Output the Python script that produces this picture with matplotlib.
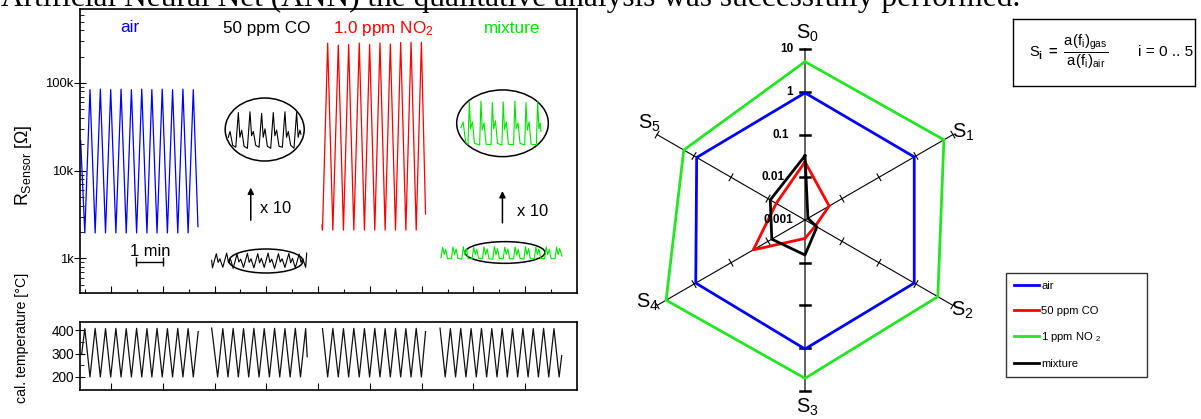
import numpy as np
import matplotlib
matplotlib.use("Agg")
import matplotlib.pyplot as plt
from matplotlib import font_manager
from matplotlib.patches import Ellipse
from matplotlib.ticker import FixedLocator, NullFormatter

W, H = 1201, 419

# ---------------- data ----------------
# sensor resistance traces, t in minutes, R in Ohm (log axis)
air_t = [-0.17, -0.01, 0.19, 0.39, 0.59, 0.79, 0.99, 1.19, 1.39, 1.59, 1.79, 1.99,
         2.19, 2.39, 2.58, 2.78, 2.98, 3.18, 3.38, 3.58, 3.78, 3.98, 4.18, 4.36]
air_r = [22000, 1950, 84000, 1950, 85000, 1950, 84000, 1950, 85000, 1950, 84000, 1950,
         85000, 1950, 84000, 1950, 85000, 1950, 84000, 1950, 85000, 1950, 84000, 2300]

no2_t = [9.15, 9.17, 9.37, 9.57, 9.78, 9.98, 10.18, 10.38, 10.59, 10.79, 10.99,
         11.19, 11.39, 11.59, 11.79, 11.99, 12.19, 12.39, 12.59, 12.79, 12.99, 13.15]
no2_r = [2400, 2100, 285000, 2100, 270000, 2100, 275000, 2100, 285000, 2100, 275000,
         2100, 285000, 2100, 278000, 2100, 290000, 2100, 292000, 2100, 292000, 3200]

co_small_t = [4.89,
              4.92, 5.07, 5.14, 5.21,
              5.32, 5.47, 5.54, 5.61,
              5.72, 5.87, 5.94, 6.01,
              6.12, 6.27, 6.34, 6.41,
              6.52, 6.67, 6.74, 6.81,
              6.92, 7.07, 7.14, 7.21,
              7.32, 7.47, 7.54, 7.61,
              7.72, 7.87, 7.94, 8.01,
              8.12, 8.27, 8.34, 8.41,
              8.52, 8.56]
co_small_r = [950,
              780, 1130, 900, 990,
              790, 1150, 890, 1000,
              770, 1120, 910, 980,
              790, 1140, 900, 990,
              780, 1130, 890, 1000,
              790, 1150, 900, 980,
              770, 1130, 910, 990,
              790, 1140, 890, 1000,
              780, 1120, 900, 990,
              790, 1150]

# "x 10" magnified view of the CO trace
co_zoom_t = [5.53, 5.60, 5.70,
             5.82, 5.92, 5.98, 6.05, 6.14,
             6.27, 6.37, 6.43, 6.50, 6.59,
             6.72, 6.82, 6.88, 6.95, 7.04,
             7.17, 7.27, 7.33, 7.40, 7.49,
             7.62, 7.72, 7.78, 7.85, 7.94,
             8.07, 8.17, 8.23, 8.30, 8.34]
co_zoom_r = [24000, 28000, 19500,
             18500, 46000, 24000, 29000, 19000,
             18000, 47000, 25000, 28000, 19500,
             18500, 45000, 24000, 30000, 19000,
             18000, 46000, 25000, 29000, 19000,
             18500, 47000, 24000, 28000, 19500,
             18000, 46000, 24000, 29000, 26000]

mix_small_t = [13.75, 13.81, 13.87, 13.93, 14.00,
               14.15, 14.21, 14.27, 14.33, 14.40,
               14.55, 14.61, 14.67, 14.73, 14.80,
               14.95, 15.01, 15.07, 15.13, 15.20,
               15.35, 15.41, 15.47, 15.53, 15.60,
               15.75, 15.81, 15.87, 15.93, 16.00,
               16.15, 16.21, 16.27, 16.33, 16.40,
               16.55, 16.61, 16.67, 16.73, 16.80,
               16.95, 17.01, 17.07, 17.13, 17.20,
               17.35, 17.41, 17.47, 17.53, 17.60,
               17.75, 17.81, 17.87, 17.93, 18.00,
               18.15, 18.21, 18.27, 18.33, 18.42]
mix_small_r = [1020, 1340, 1110, 1270, 990,
               990, 1350, 1100, 1280, 1000,
               980, 1360, 1090, 1290, 990,
               990, 1340, 1110, 1270, 1000,
               990, 1350, 1100, 1280, 990,
               980, 1360, 1100, 1290, 1000,
               990, 1340, 1110, 1280, 990,
               990, 1350, 1090, 1270, 1000,
               980, 1360, 1100, 1290, 990,
               990, 1340, 1110, 1280, 1000,
               990, 1350, 1100, 1270, 990,
               990, 1350, 1100, 1290, 1060]

# "x 10" magnified view of the mixture trace
mix_zoom_t = [14.52, 14.60, 14.70,
              14.79, 14.84, 14.89, 14.96, 15.04,
              15.24, 15.29, 15.34, 15.41, 15.49,
              15.68, 15.73, 15.78, 15.85, 15.93,
              16.10, 16.15, 16.20, 16.27, 16.35,
              16.55, 16.60, 16.65, 16.72, 16.80,
              16.98, 17.03, 17.08, 17.15, 17.23,
              17.43, 17.48, 17.53, 17.58, 17.61]
mix_zoom_r = [31000, 36000, 21000,
              20000, 61000, 30000, 36000, 20500,
              19600, 62000, 29000, 35000, 20000,
              19800, 60000, 30000, 37000, 20500,
              19600, 61000, 29500, 36000, 20000,
              19800, 62000, 30000, 35000, 20500,
              19600, 60000, 29000, 36000, 20000,
              19800, 61000, 30000, 35000, 28000]

# calibrated heater temperature (deg C)
temp_air_t = [-0.13, -0.01, 0.19, 0.39, 0.59, 0.79, 0.99, 1.19, 1.39, 1.59, 1.79, 1.99,
              2.19, 2.39, 2.58, 2.78, 2.98, 3.18, 3.38, 3.58, 3.78, 3.98, 4.18, 4.37]
temp_air = [300, 408, 200, 409, 200, 408, 200, 409, 200, 408, 200, 409,
            200, 408, 200, 409, 200, 408, 200, 409, 200, 408, 200, 395]
temp_co_t = [4.89, 5.12, 5.32, 5.52, 5.72, 5.92, 6.12, 6.32, 6.52, 6.72,
             6.92, 7.12, 7.32, 7.52, 7.72, 7.92, 8.12, 8.32, 8.52, 8.58]
temp_co = [410, 200, 408, 200, 409, 200, 408, 200, 409, 200,
           408, 200, 409, 200, 408, 200, 409, 200, 408, 287]
temp_no2_t = [9.17, 9.37, 9.57, 9.78, 9.98, 10.18, 10.38, 10.59, 10.79, 10.99, 11.19,
              11.39, 11.59, 11.79, 11.99, 12.19, 12.39, 12.59, 12.79, 12.99, 13.15]
temp_no2 = [408, 200, 409, 200, 408, 200, 409, 200, 408, 200, 409,
            200, 408, 200, 409, 200, 408, 200, 409, 200, 395]
temp_mix_t = [13.71, 13.91, 14.11, 14.31, 14.51, 14.71, 14.91, 15.11, 15.31, 15.51,
              15.71, 15.91, 16.11, 16.31, 16.51, 16.71, 16.91, 17.11, 17.31, 17.51,
              17.71, 17.91, 18.11, 18.31, 18.41]
temp_mix = [410, 200, 408, 200, 409, 200, 408, 200, 409, 200,
            408, 200, 409, 200, 408, 200, 409, 200, 408, 200,
            409, 200, 408, 200, 292]

# radar: sensitivities S_i for the six spokes
spokes = ["S_0", "S_1", "S_2", "S_3", "S_4", "S_5"]
sens_air = [0.95, 0.9, 0.9, 1.05, 0.9, 0.85]
sens_co = [0.023, 0.0045, 0.0019, 0.0027, 0.025, 0.006]
sens_no2 = [5.1, 5.7, 3.9, 5.1, 5.7, 1.9]
sens_mix = [0.032, 0.0012, 0.0021, 0.0066, 0.0079, 0.0087]
radar_ticks = [0.001, 0.01, 0.1, 1, 10]
radar_tick_labels = ["0.001", "0.01", "0.1", "1", "10"]

BLUE, RED, GREEN, BLACK = "#0000ff", "#ff0000", "#00e400", "#000000"
RGREEN = "#22e622"

# ---------------- fonts ----------------
_names = {f.name for f in font_manager.fontManager.ttflist}
NARROW_OK = "Liberation Sans Narrow" in _names
SANS = "Liberation Sans Narrow" if NARROW_OK else "Liberation Sans"
plt.rcParams["font.family"] = [SANS, "DejaVu Sans"]
plt.rcParams["mathtext.fontset"] = "custom"
plt.rcParams["mathtext.rm"] = SANS
plt.rcParams["mathtext.it"] = SANS + ":italic"
plt.rcParams["mathtext.bf"] = SANS + ":bold"
K = 1.0 if NARROW_OK else 0.85   # narrow font can be set taller


def px_rect(l, t, r, b):
    return [l / W, 1 - b / H, (r - l) / W, (b - t) / H]


fig = plt.figure(figsize=(W / 100, H / 100), dpi=100)

fig.text(1 / W, 1 - 6 / H,
         "Artificial Neural Net (ANN) the qualitative analysis was successfully performed.",
         family="Liberation Serif", fontsize=22.6, va="baseline", ha="left")

# ---------------- sensor resistance panel ----------------
ax = fig.add_axes(px_rect(80.4, 9.3, 577, 293))
ax.set_yscale("log")
ax.set_xlim(-0.18, 19.0)
ax.set_ylim(403, 692000)

ax.plot(air_t, air_r, color=BLUE, lw=0.9)
ax.plot(no2_t, no2_r, color=RED, lw=0.9)
ax.plot(co_small_t, co_small_r, color=BLACK, lw=0.8)
ax.plot(co_zoom_t, co_zoom_r, color=BLACK, lw=0.8)
ax.plot(mix_small_t, mix_small_r, color=GREEN, lw=0.8)
ax.plot(mix_zoom_t, mix_zoom_r, color=GREEN, lw=0.8)

for cx, cy, w, h in [(0.3711, 0.5763, 0.1591, 0.2221), (0.3737, 0.1128, 0.1490, 0.0846),
                     (0.8500, 0.5982, 0.1845, 0.2351), (0.8550, 0.1428, 0.1611, 0.0765)]:
    ax.add_patch(Ellipse((cx, cy), w, h, transform=ax.transAxes, fill=False,
                         ec="black", lw=1.1))

for xa, y0, y1, xt, yt in [(6.40, 2530, 6900, 6.76, 3660), (16.12, 2360, 6300, 16.68, 3380)]:
    ax.annotate("", xy=(xa, y1), xytext=(xa, y0),
                arrowprops=dict(arrowstyle="-|>", color="black", lw=1.1, mutation_scale=9))
    ax.text(xt, yt, "x 10", fontsize=14 * K, va="center", ha="left")

# 1 min scale bar
ax.plot([1.97, 3.02], [916, 916], color="black", lw=1.0)
ax.vlines([1.97, 3.02], 809, 1037, color="black", lw=1.0)
ax.text(0.1402, 0.1304, "1 min", transform=ax.transAxes, fontsize=14 * K,
        ha="center", va="baseline")

for x, y, s, c in [(0.0999, 0.921, "air", BLUE), (0.3758, 0.917, "50 ppm CO", BLACK),
                   (0.6094, 0.917, r"1.0 ppm NO$_\mathregular{2}$", RED),
                   (0.8691, 0.917, "mixture", GREEN)]:
    ax.text(x, y, s, color=c, transform=ax.transAxes, fontsize=14.5 * K,
            ha="center", va="baseline")

ax.yaxis.set_major_locator(FixedLocator([1e3, 1e4, 1e5]))
ax.set_yticklabels(["1k", "10k", "100k"])
ax.yaxis.set_minor_locator(FixedLocator([m * 10 ** e for e in (2, 3, 4, 5) for m in range(2, 10)]))
ax.yaxis.set_minor_formatter(NullFormatter())
ax.xaxis.set_major_locator(FixedLocator(list(range(1, 19, 2))))
ax.xaxis.set_minor_locator(FixedLocator(list(range(0, 19, 2))))
ax.tick_params(axis="y", which="major", direction="inout", length=8, width=0.8,
               labelsize=11 * K, pad=1)
ax.tick_params(axis="y", which="minor", direction="in", length=3, width=0.6)
ax.tick_params(axis="x", which="major", direction="in", length=5, width=0.8, labelbottom=False)
ax.tick_params(axis="x", which="minor", direction="in", length=3, width=0.8)
for sp in ax.spines.values():
    sp.set_linewidth(1.2)

fig.text(24 / W, 1 - 165 / H, r"R$_\mathregular{Sensor}$ [Ω]", rotation=90,
         ha="center", va="center", fontsize=15 * K)

# ---------------- temperature panel ----------------
axt = fig.add_axes(px_rect(80.4, 322.3, 577, 390))
axt.set_xlim(-0.18, 19.0)
axt.set_ylim(144, 435)
for tt, vv in [(temp_air_t, temp_air), (temp_co_t, temp_co),
               (temp_no2_t, temp_no2), (temp_mix_t, temp_mix)]:
    axt.plot(tt, vv, color="#111111", lw=0.9)
axt.yaxis.set_major_locator(FixedLocator([200, 300, 400]))
axt.yaxis.set_minor_locator(FixedLocator([250, 350]))
axt.xaxis.set_major_locator(FixedLocator(list(range(1, 19, 2))))
axt.tick_params(axis="y", which="major", direction="inout", length=7, width=0.8,
                labelsize=11.5 * K, pad=1)
axt.tick_params(axis="y", which="minor", direction="in", length=3, width=0.6)
axt.tick_params(axis="x", which="major", direction="in", length=5, width=0.8, labelbottom=False)
for sp in axt.spines.values():
    sp.set_linewidth(1.2)

fig.text(22 / W, 1 - 338 / H, "cal. temperature [°C]", rotation=90,
         ha="center", va="center", fontsize=12 * K)

# ---------------- radar chart ----------------
DEC = 42.7   # pixels per decade
axr = fig.add_axes(px_rect(625, 20, 985, 415))
axr.set_xlim(-180 / DEC, 180 / DEC)
axr.set_ylim(-195 / DEC, 200 / DEC)
axr.axis("off")

ang = np.deg2rad(np.arange(6) * 60.0)
rmax = np.log10(radar_ticks[-1]) - np.log10(radar_ticks[0])
for i in range(3):
    dx, dy = np.sin(ang[i]), np.cos(ang[i])
    vert = i == 0
    axr.plot([-rmax * dx, rmax * dx], [-rmax * dy, rmax * dy],
             color="#555555" if vert else "black", lw=1.3 if vert else 0.8, zorder=1)
for i in range(6):
    dx, dy = np.sin(ang[i]), np.cos(ang[i])
    vert = i in (0, 3)
    hl = 0.11 if vert else 0.09
    for tv in radar_ticks[1:]:
        r = np.log10(tv) - np.log10(radar_ticks[0])
        axr.plot([r * dx - hl * dy, r * dx + hl * dy], [r * dy + hl * dx, r * dy - hl * dx],
                 color="black", lw=1.8 if vert else 0.8, zorder=1)

for tv, lab, off in zip(radar_ticks, radar_tick_labels, [-0.28, -0.47, -0.375, -0.28, -0.28]):
    r = np.log10(tv) - np.log10(radar_ticks[0])
    axr.text(off, r, lab, ha="right", va="center", fontsize=8.5, fontweight="bold",
             family=["Liberation Sans", "DejaVu Sans"], zorder=5)

handles = []
for vals, col, lab in [(sens_air, BLUE, "air"), (sens_no2, RGREEN, "1 ppm NO $_\\mathregular{2}$"),
                       (sens_co, RED, "50 ppm CO"), (sens_mix, BLACK, "mixture")]:
    r = np.log10(vals) - np.log10(radar_ticks[0])
    xs = np.append(r * np.sin(ang), r[0] * np.sin(ang[0]))
    ys = np.append(r * np.cos(ang), r[0] * np.cos(ang[0]))
    ln, = axr.plot(xs, ys, color=col, lw=2.0, label=lab, zorder=3)
    handles.append(ln)

for (lx, ly), s in zip([(0.05, 4.36), (3.70, 2.06), (3.68, -2.11), (0.05, -4.38),
                        (-3.68, -1.92), (-3.65, 2.27)], spokes):
    axr.text(lx, ly, r"$\mathregular{" + s + "}$", ha="center", va="center",
             fontsize=17 * K, clip_on=False)

order = [0, 2, 1, 3]
leg = fig.legend([handles[i] for i in order], [handles[i].get_label() for i in order],
                 loc="upper left", bbox_to_anchor=(1006 / W, 1 - 382.7 / H, 140.7 / W, 109.4 / H),
                 bbox_transform=fig.transFigure, mode="expand", frameon=True, fancybox=False,
                 edgecolor="black", fontsize=9.5 * K, handlelength=2.2, handletextpad=0.25,
                 labelspacing=1.3, borderpad=0.7, borderaxespad=0)
leg.get_frame().set_linewidth(1.0)

# formula box
axf = fig.add_axes(px_rect(1012.7, 19, 1195, 85.7))
axf.set_xticks([])
axf.set_yticks([])
for sp in axf.spines.values():
    sp.set_linewidth(1.0)
axf.text(0.09, 0.5, r"$\mathregular{S}_{\mathbf{i}}\ \mathbf{=}\ "
         r"\dfrac{\mathregular{a(f_i)_{gas}}}{\mathregular{a(f_i)_{air}}}$",
         transform=axf.transAxes, fontsize=12.5 * K, ha="left", va="center")
axf.text(0.685, 0.5, "i = 0 .. 5", transform=axf.transAxes, fontsize=13 * K,
         ha="left", va="center")

fig.savefig("out.png", dpi=100)
